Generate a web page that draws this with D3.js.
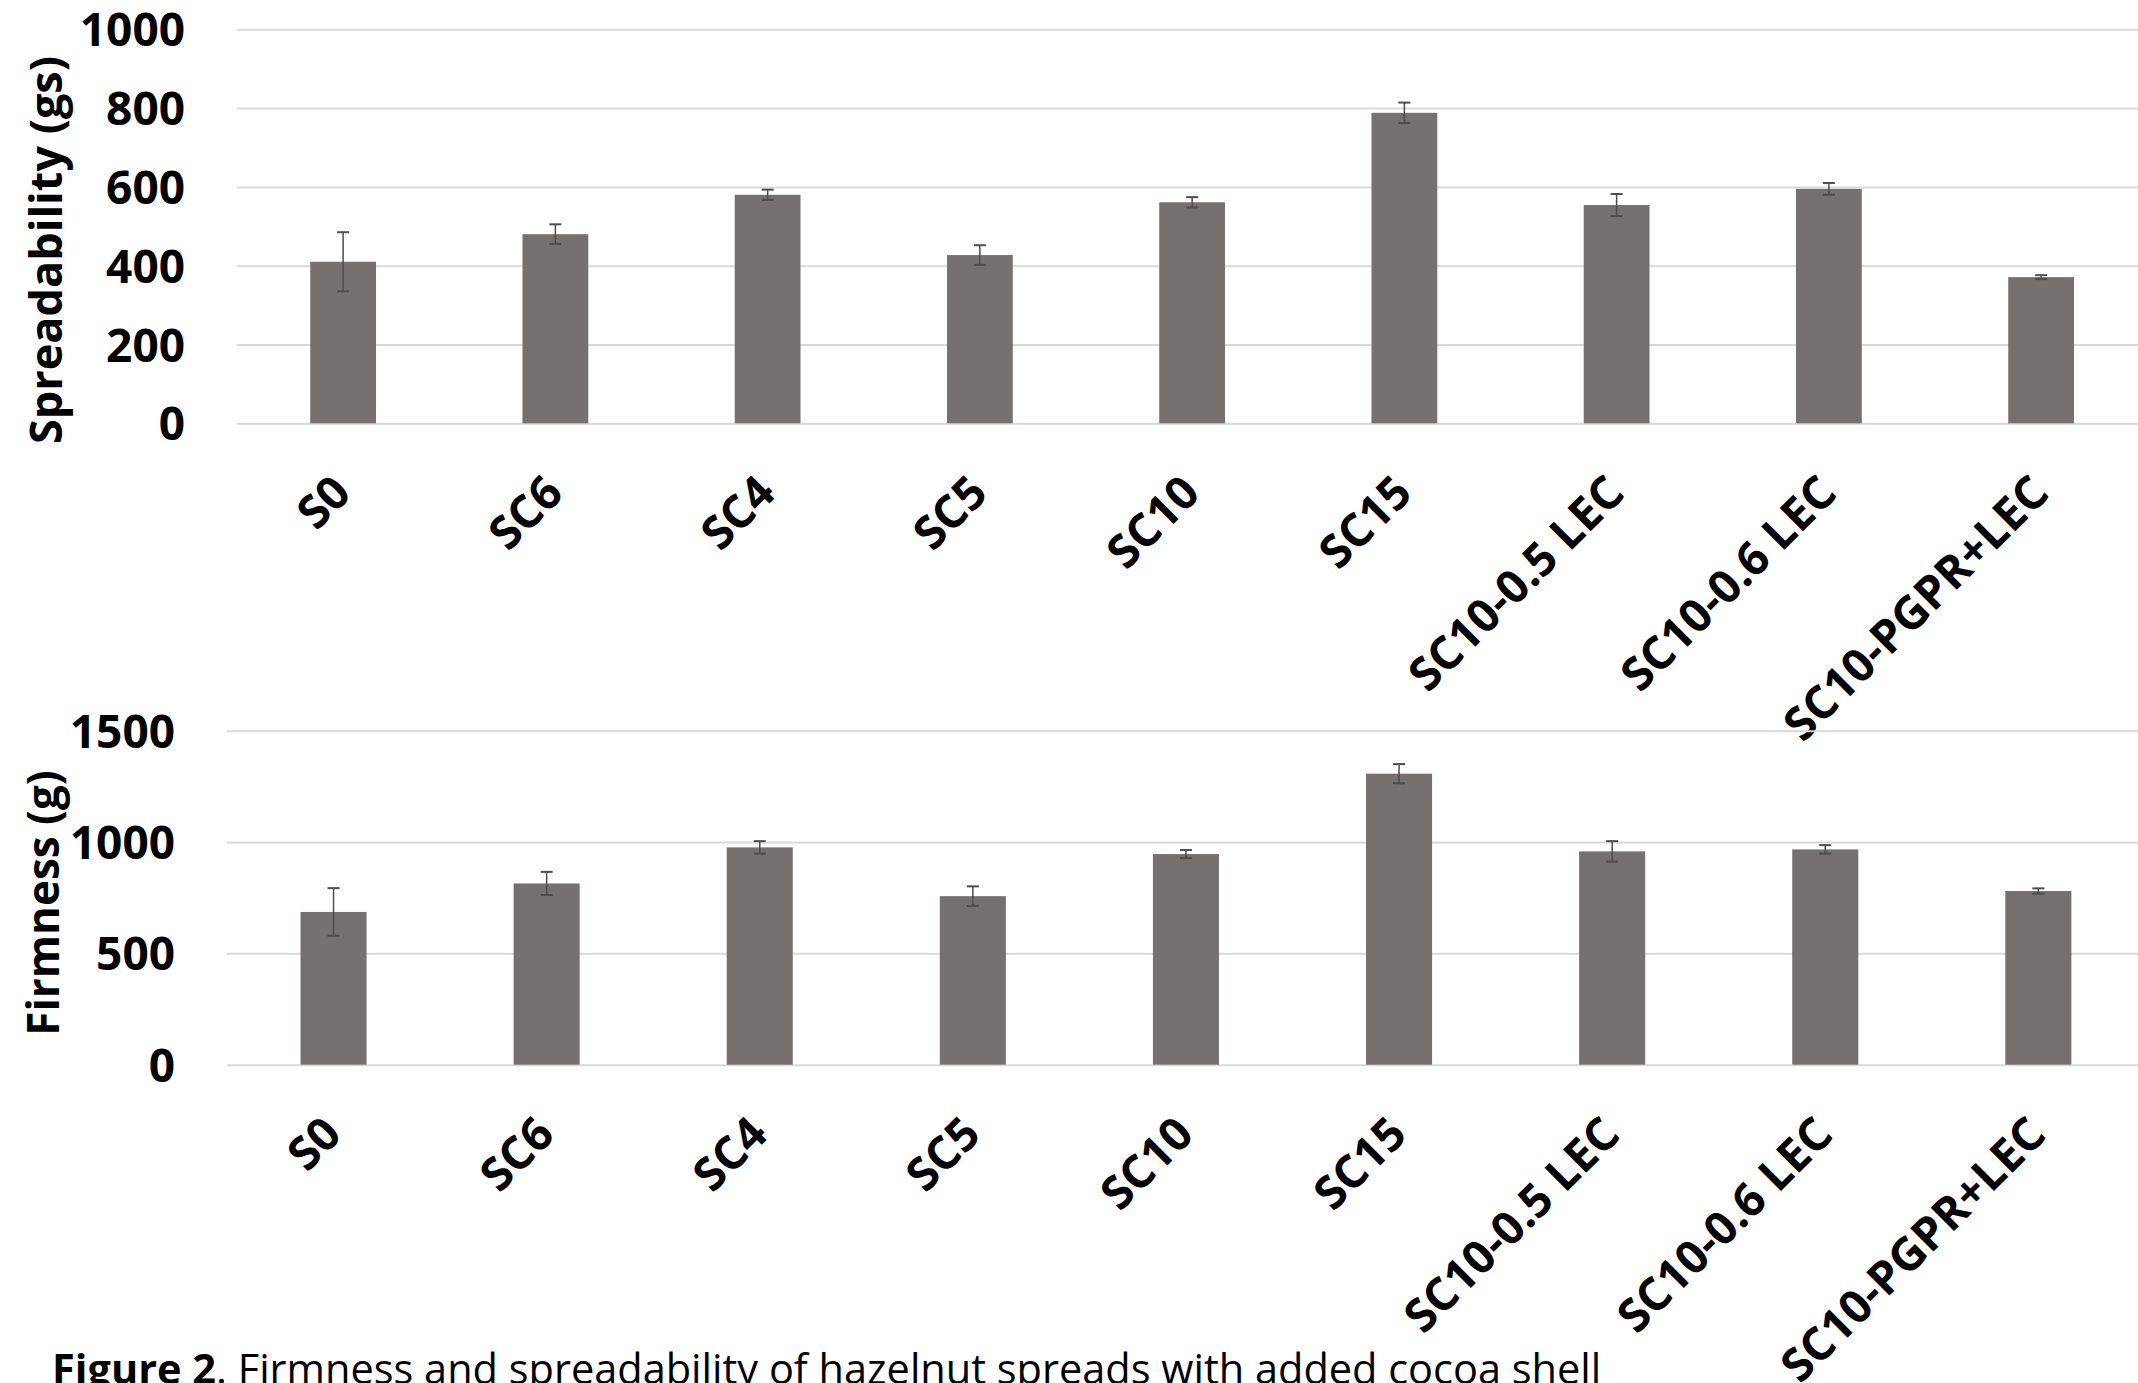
<!DOCTYPE html>
<html>
<head>
<meta charset="utf-8">
<script src="https://cdn.jsdelivr.net/npm/d3@7"></script>
<style>
  html, body { margin: 0; padding: 0; background: #fff; }
  svg { display: block; }
  text { font-family: 'Open Sans', 'DejaVu Sans', sans-serif; fill: #000; }
</style>
</head>
<body>
<div id="chart"></div>
<script>
const categories = ['S0', 'SC6', 'SC4', 'SC5', 'SC10', 'SC15', 'SC10-0.5 LEC', 'SC10-0.6 LEC', 'SC10-PGPR+LEC']

// spreadability (gs), mean and error
const spreadability = [410, 480, 580, 427, 561, 788, 554, 595, 371]
const spreadabilityErr = [75, 25, 13, 25, 13, 26, 28, 15, 5]
const spreadTicks = [0, 200, 400, 600, 800, 1000]

// firmness (g), mean and error
const firmness = [686, 814, 976, 757, 946, 1307, 958, 967, 780]
const firmnessErr = [107, 52, 28, 44, 18, 43, 46, 19, 12]
const firmTicks = [0, 500, 1000, 1500]

const captionBold = 'Figure 2'
const captionText = '. Firmness and spreadability of hazelnut spreads with added cocoa shell'

const width = 2138
const height = 1383
const barColor = '#767171'
const errColor = '#4d4d4d'
const gridColor = '#d9d9d9'

const svg = d3.select('#chart').append('svg')
  .attr('width', width)
  .attr('height', height)

function drawPanel(opts) {
  const { values, errors, ticks, top, bottom, left, step, title, titleX, titleY, titleSize } = opts

  const x = d3.scaleBand()
    .domain(categories)
    .range([left, left + step * categories.length])
    .padding(0)

  const y = d3.scaleLinear()
    .domain([0, d3.max(ticks)])
    .range([bottom, top])

  const g = svg.append('g')

  // gridlines + tick labels
  const axis = g.append('g')
    .attr('transform', `translate(${left}, 0)`)
    .call(d3.axisLeft(y)
      .tickValues(ticks)
      .tickFormat(d3.format('d'))
      .tickSize(-(width - left))
      .tickPadding(52))
  axis.select('.domain').remove()
  axis.selectAll('.tick line')
    .attr('stroke', gridColor)
    .attr('stroke-width', 2)
  axis.selectAll('.tick text')
    .attr('font-size', 46)
    .attr('font-weight', 700)
    .attr('fill', '#000')
    .attr('dy', '0.36em')

  const barW = x.bandwidth() * 0.31

  // bars
  g.selectAll('.bar')
    .data(values)
    .enter().append('rect')
    .attr('class', 'bar')
    .attr('x', (d, i) => x(categories[i]) + x.bandwidth() / 2 - barW / 2)
    .attr('y', d => y(d))
    .attr('width', barW)
    .attr('height', d => y(0) - y(d))
    .attr('fill', barColor)

  // error bars
  const capW = 12
  const err = g.selectAll('.err')
    .data(values)
    .enter().append('g')
    .attr('class', 'err')
    .attr('transform', (d, i) => `translate(${x(categories[i]) + x.bandwidth() / 2}, 0)`)

  err.append('line')
    .attr('x1', 0).attr('x2', 0)
    .attr('y1', (d, i) => y(d + errors[i]))
    .attr('y2', (d, i) => y(d - errors[i]))
    .attr('stroke', errColor)
    .attr('stroke-width', 1.5)
  err.append('line')
    .attr('x1', -capW / 2).attr('x2', capW / 2)
    .attr('y1', (d, i) => y(d + errors[i]))
    .attr('y2', (d, i) => y(d + errors[i]))
    .attr('stroke', errColor)
    .attr('stroke-width', 2)
  err.append('line')
    .attr('x1', -capW / 2).attr('x2', capW / 2)
    .attr('y1', (d, i) => y(d - errors[i]))
    .attr('y2', (d, i) => y(d - errors[i]))
    .attr('stroke', errColor)
    .attr('stroke-width', 2)

  // rotated category labels
  g.selectAll('.cat')
    .data(categories)
    .enter().append('text')
    .attr('class', 'cat')
    .attr('transform', d => `translate(${x(d) + x.bandwidth() / 2 + 10}, ${bottom + 72}) rotate(-45)`)
    .attr('text-anchor', 'end')
    .attr('font-size', 46)
    .attr('font-weight', 700)
    .text(d => d)

  // y axis title
  g.append('text')
    .attr('transform', `translate(${titleX}, ${titleY}) rotate(-90)`)
    .attr('text-anchor', 'middle')
    .attr('font-size', titleSize)
    .attr('font-weight', 700)
    .text(title)
}

drawPanel({
  values: spreadability,
  errors: spreadabilityErr,
  ticks: spreadTicks,
  top: 29.3,
  bottom: 423.3,
  left: 237,
  step: 212.25,
  title: 'Spreadability (gs)',
  titleX: 62,
  titleY: 250,
  titleSize: 45
})

drawPanel({
  values: firmness,
  errors: firmnessErr,
  ticks: firmTicks,
  top: 730.7,
  bottom: 1064.7,
  left: 227,
  step: 213.1,
  title: 'Firmness (g)',
  titleX: 59,
  titleY: 903,
  titleSize: 44
})

// caption
const caption = svg.append('text')
  .attr('x', 52)
  .attr('y', 1384)
  .attr('font-size', 41.5)
caption.append('tspan').attr('font-weight', 700).text(captionBold)
caption.append('tspan').text(captionText)
</script>
</body>
</html>
